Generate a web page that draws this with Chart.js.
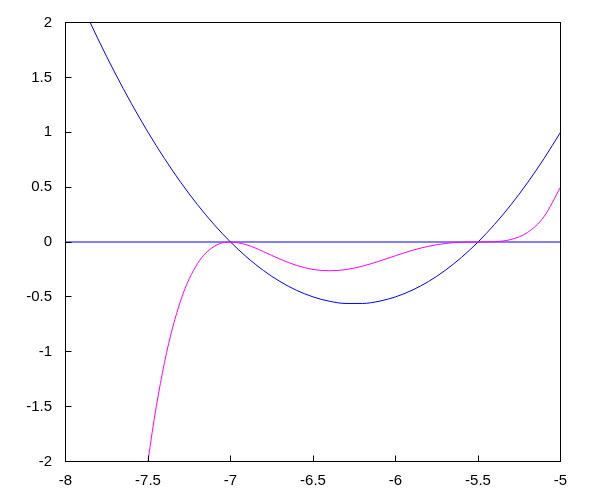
<!DOCTYPE html>
<html>
<head>
<meta charset="utf-8">
<script src="https://cdn.jsdelivr.net/npm/chart.js@4"></script>
<style>
  html, body { margin: 0; padding: 0; background: #fff; }
  #wrap { width: 600px; height: 500px; }
</style>
</head>
<body>
<div id="wrap"><canvas id="plot" width="600" height="500"></canvas></div>
<script>
// x samples
const xValues = [-8.0, -7.9, -7.8, -7.7, -7.6, -7.5, -7.4, -7.3, -7.2, -7.1,
                 -7.0, -6.9, -6.8, -6.7, -6.6, -6.5, -6.4, -6.3, -6.2, -6.1,
                 -6.0, -5.9, -5.8, -5.7, -5.6, -5.5, -5.4, -5.3, -5.2, -5.1, -5.0];

// blue parabola
const blueValues = [2.5, 2.16, 1.84, 1.54, 1.26, 1.0, 0.76, 0.54, 0.34, 0.16,
                    0, -0.14, -0.26, -0.36, -0.44, -0.5, -0.54, -0.56, -0.56, -0.54,
                    -0.5, -0.44, -0.36, -0.26, -0.14, 0, 0.16, 0.34, 0.54, 0.76, 1.0];

// magenta curve
const magentaValues = [-15.625, -11.197, -7.787, -5.218, -3.334, -2.0, -1.097, -0.525, -0.197, -0.041,
                       0, -0.027, -0.088, -0.156, -0.213, -0.25, -0.262, -0.251, -0.22, -0.175,
                       -0.125, -0.077, -0.039, -0.014, -0.002, 0, 0.003, 0.023, 0.087, 0.231, 0.5];

// horizontal zero line
const zeroX = [-8, -5];
const zeroY = [0, 0];

const xTicks = [-8, -7.5, -7, -6.5, -6, -5.5, -5];
const yTicks = [-2, -1.5, -1, -0.5, 0, 0.5, 1, 1.5, 2];

function toPoints(xs, ys) {
    return xs.map((x, i) => ({ x: x, y: ys[i] }));
}

// frame + inward tick marks, gnuplot style
const framePlugin = {
    id: 'frame',
    afterDraw(chart) {
        const ctx = chart.ctx;
        const a = chart.chartArea;
        const xs = chart.scales.x;
        const ys = chart.scales.y;
        ctx.save();
        ctx.strokeStyle = '#000';
        ctx.lineWidth = 1;
        ctx.strokeRect(a.left, a.top, a.right - a.left, a.bottom - a.top);
        ctx.beginPath();
        xTicks.forEach(v => {
            const px = Math.floor(xs.getPixelForValue(v)) + 0.5;
            ctx.moveTo(px, a.bottom);
            ctx.lineTo(px, a.bottom - 6);
        });
        yTicks.forEach(v => {
            const py = Math.floor(ys.getPixelForValue(v)) + 0.5;
            ctx.moveTo(a.left, py);
            ctx.lineTo(a.left + 6, py);
        });
        ctx.stroke();
        ctx.restore();
    }
};

const fontSpec = { family: '"Liberation Sans", Arial, sans-serif', size: 15 };

new Chart(document.getElementById('plot').getContext('2d'), {
    type: 'line',
    data: {
        datasets: [
            {
                data: toPoints(xValues, magentaValues),
                borderColor: '#ff00ff',
                borderWidth: 1,
                pointRadius: 0,
                cubicInterpolationMode: 'monotone'
            },
            {
                data: toPoints(zeroX, zeroY),
                borderColor: '#0000ff',
                borderWidth: 1,
                pointRadius: 0
            },
            {
                data: toPoints(xValues, blueValues),
                borderColor: '#0000ff',
                borderWidth: 1,
                pointRadius: 0,
                cubicInterpolationMode: 'monotone'
            }
        ]
    },
    options: {
        responsive: false,
        animation: false,
        layout: { padding: { top: 19.5, right: 39.5, left: 0, bottom: 0 } },
        plugins: {
            legend: { display: false },
            tooltip: { enabled: false }
        },
        scales: {
            x: {
                type: 'linear',
                min: -8,
                max: -5,
                afterFit: s => { s.height = 38.5; },
                afterBuildTicks: s => { s.ticks = xTicks.map(v => ({ value: v })); },
                grid: { display: false, drawTicks: false },
                border: { display: false },
                ticks: { color: '#000', font: fontSpec, padding: 10, maxRotation: 0,
                         callback: v => String(v) }
            },
            y: {
                type: 'linear',
                min: -2,
                max: 2,
                afterFit: s => { s.width = 65.5; },
                afterBuildTicks: s => { s.ticks = yTicks.map(v => ({ value: v })); },
                grid: { display: false, drawTicks: false },
                border: { display: false },
                ticks: { color: '#000', font: fontSpec, padding: 13.5,
                         callback: v => String(v) }
            }
        }
    },
    plugins: [framePlugin]
});
</script>
</body>
</html>
